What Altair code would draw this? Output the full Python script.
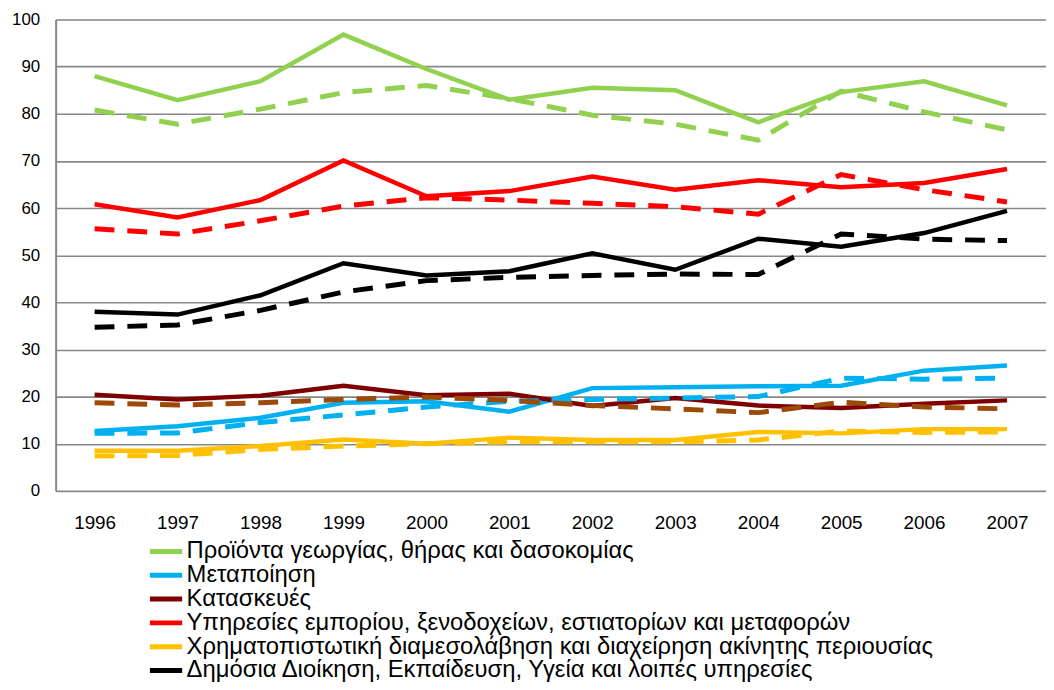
import altair as alt
import pandas as pd

years = list(range(1996, 2008))

names = [
    "Προϊόντα γεωργίας, θήρας και δασοκομίας",
    "Μεταποίηση",
    "Κατασκευές",
    "Υπηρεσίες εμπορίου, ξενοδοχείων, εστιατορίων και μεταφορών",
    "Χρηματοπιστωτική διαμεσολάβηση και διαχείρηση ακίνητης περιουσίας",
    "Δημόσια Διοίκηση, Εκπαίδευση, Υγεία και λοιπές υπηρεσίες",
]

# solid series
agri_solid = [88.0, 82.9, 86.9, 96.8, 89.5, 83.0, 85.5, 85.0, 78.2, 84.6, 86.9, 81.8]
manu_solid = [12.7, 13.7, 15.5, 18.7, 19.0, 16.8, 21.8, 22.0, 22.2, 22.3, 25.5, 26.6]
constr_solid = [20.4, 19.4, 20.2, 22.3, 20.3, 20.6, 18.0, 19.7, 18.1, 17.6, 18.5, 19.2]
trade_solid = [60.8, 58.0, 61.7, 70.1, 62.5, 63.6, 66.7, 63.9, 65.9, 64.4, 65.3, 68.3]
fin_solid = [8.5, 8.5, 9.5, 10.9, 10.0, 11.3, 10.8, 10.8, 12.5, 12.2, 13.1, 13.1]
public_solid = [38.0, 37.4, 41.5, 48.3, 45.7, 46.6, 50.4, 46.9, 53.5, 51.8, 54.7, 59.4]

# dashed series
agri_dash = [80.8, 77.8, 81.0, 84.5, 86.0, 83.2, 79.7, 77.8, 74.4, 84.8, 80.4, 76.6]
manu_dash = [12.2, 12.3, 14.5, 16.1, 17.8, 19.0, 19.4, 19.7, 20.0, 23.9, 23.7, 23.9]
constr_dash = [18.7, 18.2, 18.7, 19.4, 19.9, 19.2, 18.1, 17.4, 16.6, 18.8, 17.8, 17.4]
trade_dash = [55.6, 54.5, 57.3, 60.4, 62.2, 61.7, 61.0, 60.3, 58.7, 67.1, 63.9, 61.3]
fin_dash = [7.4, 7.5, 8.8, 9.5, 10.0, 10.4, 10.4, 10.4, 10.8, 12.7, 12.4, 12.5]
public_dash = [34.7, 35.2, 38.3, 42.2, 44.6, 45.3, 45.7, 46.0, 45.9, 54.5, 53.4, 53.1]

solid_colors = ["#92D050", "#00B0F0", "#7F0000", "#FF0000", "#FFC000", "#000000"]
dash_colors = ["#92D050", "#00B0F0", "#9C4A08", "#FF0000", "#FFC000", "#000000"]

solid_sets = [agri_solid, manu_solid, constr_solid, trade_solid, fin_solid, public_solid]
dash_sets = [agri_dash, manu_dash, constr_dash, trade_dash, fin_dash, public_dash]

rows = []
for name, vals in zip(names, solid_sets):
    for yr, v in zip(years, vals):
        rows.append({"series": name, "year": str(yr), "value": v, "kind": "solid"})
for name, vals in zip(names, dash_sets):
    for yr, v in zip(years, vals):
        rows.append({"series": name, "year": str(yr), "value": v, "kind": "dash"})
df = pd.DataFrame(rows)

FONT = "Liberation Sans"
GRID = "#878787"

x_enc = alt.X(
    "year:O",
    scale=alt.Scale(type="point", padding=0.47),
    axis=alt.Axis(
        title=None, labelAngle=0, ticks=False, domain=False, grid=False,
        labelFontSize=19, labelPadding=23, labelColor="#000000", labelFont=FONT,
    ),
)
y_enc = alt.Y(
    "value:Q",
    scale=alt.Scale(domain=[0, 100], nice=False),
    axis=alt.Axis(
        title=None, values=list(range(0, 101, 10)), ticks=False,
        grid=True, gridColor=GRID, gridWidth=1.6, gridOpacity=1,
        domain=True, domainColor=GRID, domainWidth=2,
        labelFontSize=17, labelPadding=16, labelColor="#000000", labelFont=FONT,
    ),
)

base = alt.Chart(df)

solid = base.transform_filter(alt.datum.kind == "solid").mark_line(
    strokeWidth=4.5, strokeJoin="miter"
).encode(
    x=x_enc,
    y=y_enc,
    color=alt.Color(
        "series:N",
        scale=alt.Scale(domain=names, range=solid_colors),
        legend=alt.Legend(
            title=None,
            orient="none",
            legendX=95,
            legendY=524,
            direction="vertical",
            symbolType="M-1.5,0L1.5,0",
            symbolSize=576,
            symbolStrokeWidth=5,
            labelFont=FONT,
            labelFontSize=24,
            labelColor="#000000",
            labelOffset=8,
            labelLimit=0,
            clipHeight=24,
            rowPadding=0,
            padding=0,
        ),
    ),
)

dashed = base.transform_filter(alt.datum.kind == "dash").mark_line(
    strokeWidth=5, strokeDash=[20, 13], strokeJoin="miter"
).encode(
    x=x_enc,
    y=y_enc,
    stroke=alt.Stroke(
        "series:N",
        scale=alt.Scale(domain=names, range=dash_colors),
        legend=None,
    ),
)

chart = alt.layer(solid, dashed).properties(
    width=998,
    height=475,
    padding={"left": 48, "top": 9, "right": 0, "bottom": 190},
    autosize=alt.AutoSizeParams(type="none"),
).configure_view(stroke=None).configure(background="#ffffff")

chart.save("out.html", embed_options={"renderer": "svg", "actions": False})
